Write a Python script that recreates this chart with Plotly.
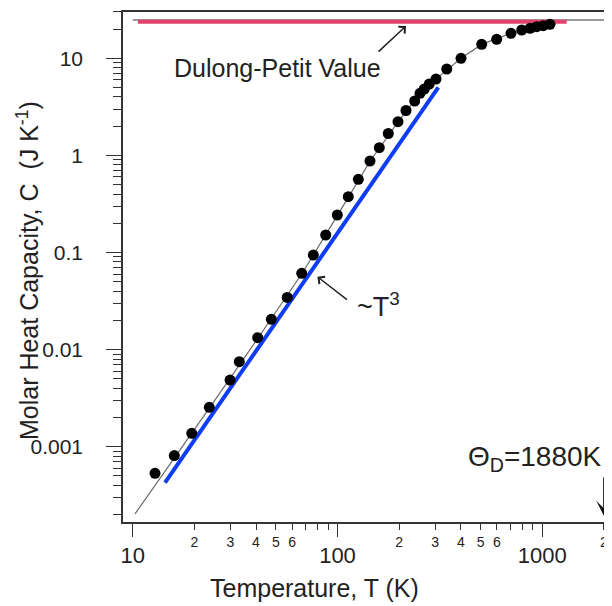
import math
import plotly.graph_objects as go

# ---- data ----
T_data = [12.85, 15.96, 19.42, 23.66, 29.87, 33.15, 40.77, 47.52, 56.81, 66.87,
          76.18, 87.58, 99.8, 112.9, 126.4, 144.1, 160.0, 177.0, 197.4, 216.0,
          238.2, 252.8, 265.3, 280.6, 302.7, 341.5, 400.9, 505.9, 598.8, 703.5,
          793.4, 871.0, 939.0, 1011, 1090]
C_data = [5.32e-4, 8.11e-4, 1.374e-3, 2.546e-3, 4.86e-3, 7.50e-3, 0.01327, 0.02051,
          0.03443, 0.0611, 0.0942, 0.1514, 0.2433, 0.3756, 0.5675, 0.8755, 1.200,
          1.681, 2.223, 2.900, 3.633, 4.361, 4.829, 5.437, 6.121, 7.760, 10.0,
          13.94, 15.70, 18.09, 19.56, 20.37, 21.15, 21.66, 22.39]

T_fit = [10.26, 15.96, 23.66, 40.77, 66.87, 99.8, 144.1, 197.4, 252.8, 302.7,
         400.9, 505.9, 703.5, 1011, 1090]
C_fit = [2.03e-4, 7.6e-4, 2.5e-3, 0.0130, 0.060, 0.240, 0.87, 2.2, 4.35, 6.1,
         10.0, 13.9, 18.1, 21.6, 22.4]

T_blue = [14.38, 310.6]
C_blue = [4.26e-4, 5.03]

T_pink = [10.6, 1315]
C_pink = [23.8, 23.8]

T_dp = [10.0, 2024]
C_dp = [24.8, 24.8]

x_major_vals = [10, 100, 1000]
x_major_text = ["10", "100", "1000"]
x_minor_vals = [20, 30, 40, 50, 60, 70, 80, 90, 200, 300, 400, 500, 600, 700, 800, 900, 2000]
x_minor_text = ["2", "3", "4", "5", "6", "", "", "", "2", "3", "4", "5", "6", "", "", "", "2"]

y_major_vals = [0.001, 0.01, 0.1, 1, 10]
y_major_text = ["0.001", "0.01", "0.1", "1", "10"]
y_minor_vals = [m * d for d in [0.0001, 0.001, 0.01, 0.1, 1, 10] for m in range(2, 10)]

FONT = "Liberation Sans, Arial, Helvetica, sans-serif"
AXC = "#333333"
TXT = "#222222"

fig = go.Figure()
fig.add_trace(go.Scatter(x=T_dp, y=C_dp, mode="lines",
                         line=dict(color="#7a7a7a", width=1.5), showlegend=False))
fig.add_trace(go.Scatter(x=T_pink, y=C_pink, mode="lines",
                         line=dict(color="#e2426b", width=4), showlegend=False))
fig.add_trace(go.Scatter(x=T_fit, y=C_fit, mode="lines",
                         line=dict(color="#6a6a6a", width=1.2), showlegend=False))
fig.add_trace(go.Scatter(x=T_blue, y=C_blue, mode="lines",
                         line=dict(color="#0f3cf5", width=4), showlegend=False))
fig.add_trace(go.Scatter(x=T_data, y=C_data, mode="markers",
                         marker=dict(color="black", size=11), showlegend=False))
fig.add_trace(go.Scatter(x=[T_data[0]], y=[C_data[0]], xaxis="x2", mode="markers",
                         marker=dict(opacity=0), showlegend=False, hoverinfo="skip"))

xrange = [0.9526, 3.3403]
yrange = [-3.7755, 1.4768]

# page body has an 8px margin: figure is sized to fill the rest of the 612x606 window
fig.update_layout(
    width=604, height=598,
    margin=dict(l=115, r=0, t=4, b=84, autoexpand=False),
    paper_bgcolor="white", plot_bgcolor="white",
    font=dict(family=FONT, color=TXT),
    xaxis=dict(type="log", range=xrange, showgrid=False, zeroline=False, automargin=False,
               showline=True, linecolor=AXC, linewidth=1.5, mirror=True,
               ticks="outside", ticklen=13, tickwidth=1.2, tickcolor=AXC,
               tickvals=x_major_vals, ticktext=x_major_text,
               tickfont=dict(size=22, family=FONT, color=TXT)),
    xaxis2=dict(type="log", range=xrange, overlaying="x", anchor="y", side="bottom",
                showgrid=False, zeroline=False, showline=False, automargin=False,
                ticks="outside", ticklen=7, tickwidth=1.2, tickcolor=AXC,
                tickvals=x_minor_vals, ticktext=x_minor_text,
                tickfont=dict(size=14, family=FONT, color=TXT)),
    yaxis=dict(type="log", range=yrange, showgrid=False, zeroline=False, automargin=False,
               showline=True, linecolor=AXC, linewidth=1.5, mirror=False,
               ticks="outside", ticklen=15, tickwidth=1.2, tickcolor=AXC,
               tickvals=y_major_vals, ticktext=y_major_text,
               tickfont=dict(size=21, family=FONT, color=TXT),
               ticklabelstandoff=19,
               minor=dict(ticks="outside", ticklen=8, tickwidth=1, tickcolor=AXC,
                          tickvals=y_minor_vals)),
)

L = math.log10
C = dict(xanchor="center", yanchor="middle")
annotations = [
    dict(x=0.3926, y=-0.1294, xref="paper", yref="paper", text="Temperature, T (K)",
         showarrow=False, font=dict(size=25, family=FONT, color=TXT), **C),
    dict(x=-0.1943, y=0.494, xref="paper", yref="paper",
         text="Molar Heat Capacity, C  (J K<sup>-1</sup>)", textangle=-90,
         showarrow=False, font=dict(size=25, family=FONT, color=TXT), **C),
    dict(x=L(50.7), y=L(7.95), xref="x", yref="y", text="Dulong-Petit Value",
         showarrow=False, font=dict(size=25, family=FONT, color=TXT), **C),
    dict(x=L(216), y=L(21.5), xref="x", yref="y", text="", showarrow=True,
         arrowhead=4, arrowsize=1.2, arrowwidth=1.5, arrowcolor=TXT, ax=-29, ay=27),
    dict(x=L(159.4), y=L(0.0288), xref="x", yref="y", text="~T<sup>3</sup>",
         showarrow=False, font=dict(size=27, family=FONT, color=TXT), **C),
    dict(x=L(79.8), y=L(0.0563), xref="x", yref="y", text="", showarrow=True,
         arrowhead=4, arrowsize=1.2, arrowwidth=1.5, arrowcolor=TXT, ax=31, ay=24),
    dict(x=L(920), y=L(0.000765), xref="x", yref="y", text="Θ<sub>D</sub>=1880K",
         showarrow=False, font=dict(size=28, family=FONT, color=TXT), **C),
    dict(x=L(2000), y=L(0.000193), xref="x", yref="y", text="", showarrow=True,
         arrowhead=3, arrowsize=1.6, arrowwidth=1.6, arrowcolor="#111", ax=0, ay=-40),
]
fig.update_layout(annotations=annotations)

fig.write_html("out.html")
